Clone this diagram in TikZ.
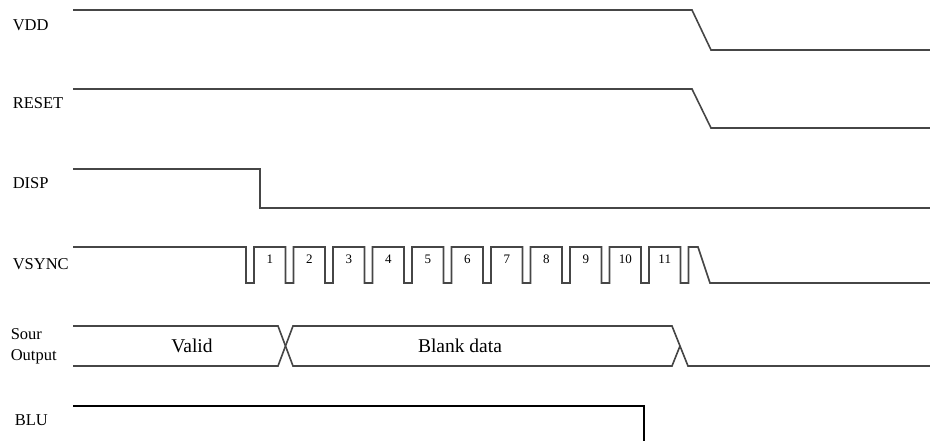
\documentclass[tikz,border=0pt]{standalone}
\usepackage{fontspec}
\setmainfont{Liberation Serif}
\usepackage{tikz}

\begin{document}
\begin{tikzpicture}
[x=1pt,y=-1pt,line width=1.6pt,line join=miter]\tikzstyle{sig}
=[draw={rgb,255:red,70;green,70;blue,70}]\tikzstyle{lbl}=[anchor=west,inner sep=0pt,align=left,font=\fontsize{16.5}{19}\selectfont]
\useasboundingbox (0,0) rectangle (930,441);
\node[lbl] (vdd) at (12,25) {VDD};
\node[lbl] (reset) at (12,103) {RESET};
\node[lbl] (disp) at (12,183) {DISP};
\node[lbl] (vsync) at (12,264) {VSYNC};
\node[lbl] (sour) at (10,346) {Sour\\[2pt]Output};
\node[lbl] (blu) at (14,420) {BLU};

\path[sig] (73,10) -- (692,10) -- (711,50) -- (930,50);
\path[sig] (73,89) -- (692,89) -- (711,128) -- (930,128);
\path[sig] (73,169) -- (260,169) -- (260,208) -- (930,208);
\path[sig] (73,247) foreach \k in {0,...,11} {-- ({246+39.5*\k},247) -- ++(0,36) -- ++(8,0) -- ++(0,-36)}
  -- (698,247) -- (710,283) -- (930,283);
\foreach \k in {1,...,11}
  \node[font=\fontsize{13}{15}\selectfont] (n\k) at ({230.25+39.5*\k},259) {\k};

\path[sig] (73,326) -- (278,326) -- (293,366) -- (672,366) -- (680,346);
\path[sig] (73,366) -- (278,366) -- (293,326) -- (672,326) -- (688,366) -- (930,366);
\node[font=\fontsize{19.5}{22}\selectfont] (valid) at (192,346) {Valid};
\node[font=\fontsize{19.5}{22}\selectfont] (blank) at (460,346) {Blank data};

\path[sig,draw=black] (73,406) -- (644,406) -- (644,441);
\end{tikzpicture}
\end{document}
